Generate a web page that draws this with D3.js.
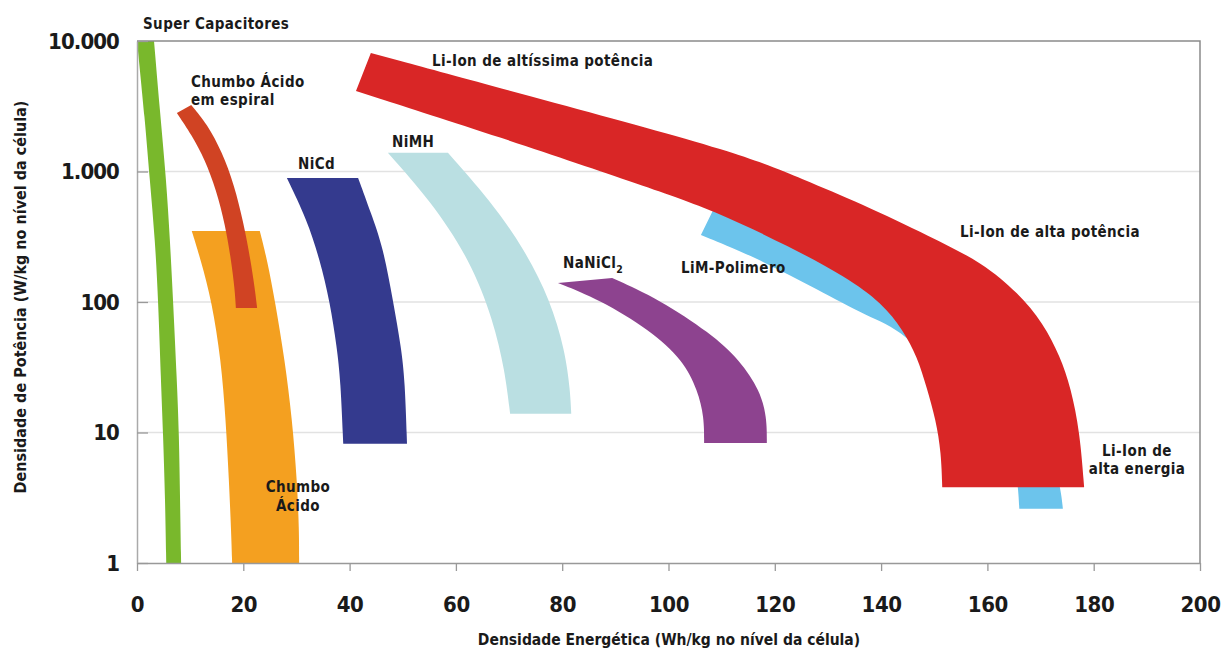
<!DOCTYPE html>
<html>
<head>
<meta charset="utf-8">
<script src="https://cdn.jsdelivr.net/npm/d3@7"></script>
<style>
  html, body { margin: 0; padding: 0; background: #fff; }
  svg { display: block; }
  text { font-family: "DejaVu Sans Condensed", "DejaVu Sans", sans-serif; font-stretch: condensed; font-weight: bold; fill: #1a1a1a; }
</style>
</head>
<body>
<svg id="chart" width="1222" height="651"></svg>
<script>
// Ragone plot: energy density (Wh/kg) vs power density (W/kg, log scale).
// Each technology is a band bounded by two edges given as [Wh/kg, W/kg] points.

const xTicks = [0, 20, 40, 60, 80, 100, 120, 140, 160, 180, 200];
const yTicks = [1, 10, 100, 1000, 10000];

const superCapA = [[0, 10000], [1.5, 2480], [2.4, 860], [3.4, 300], [4.0, 100], [4.5, 25], [4.9, 10], [5.3, 3.0], [5.5, 1]];
const superCapB = [[3.2, 10000], [4.3, 2960], [5.5, 860], [6.2, 300], [6.8, 100], [7.5, 25], [7.9, 10], [8.1, 3.0], [8.3, 1]];

const spiralA = [[7.5, 2806], [10.3, 1905], [12.8, 1225], [14.9, 721], [16.6, 389], [17.7, 210], [18.4, 124], [18.6, 90]];
const spiralB = [[10.2, 3233], [13.2, 2312], [16.0, 1410], [18.3, 788], [20.0, 410], [21.3, 217], [22.2, 124], [22.6, 90]];

const leadAcidA = [[10.3, 350], [12.0, 210], [14.1, 100], [15.8, 36], [16.7, 12.5], [17.3, 4.3], [17.7, 1.8], [17.9, 1]];
const leadAcidB = [[23.1, 350], [24.5, 210], [26.0, 100], [27.8, 36], [29.2, 12.5], [30.1, 4.3], [30.5, 1.8], [30.5, 1]];

const nicdA = [[28.2, 891], [32.0, 425], [34.4, 210], [36.3, 100], [37.6, 45], [38.3, 25], [38.8, 8.2]];
const nicdB = [[41.6, 891], [44.0, 481], [46.3, 264], [48.2, 100], [49.7, 45], [50.4, 25], [50.8, 8.2]];

const nimhA = [[47.2, 1390], [55.1, 605], [62.7, 210], [67.0, 73], [69.2, 30], [70.2, 13.9]];
const nimhB = [[58.5, 1390], [66.4, 605], [73.0, 250], [77.7, 104], [80.5, 43], [81.5, 21], [81.7, 13.9]];

const nanicl2A = [[79.2, 140], [87.1, 104], [96.5, 61], [102.7, 36], [105.5, 21], [106.7, 13.1], [106.7, 8.3]];
const nanicl2B = [[89.4, 153], [98.4, 104], [107.8, 58], [113.4, 36], [117.2, 21], [118.5, 13.1], [118.5, 8.3]];

const limPolyA = [[106.1, 326], [116.3, 221], [128.1, 124], [137.5, 77], [144.1, 61], [154.8, 21], [162.4, 7.3], [165.2, 5.2], [165.8, 3.8], [166.0, 2.6]];
const limPolyB = [[108.4, 507], [117.2, 464], [134.1, 250], [153.0, 73], [166.1, 17.8], [171.8, 7.4], [173.8, 3.8], [174.2, 2.6]];

const liIonA = [[44.0, 8090], [78.6, 3350], [113.5, 1390], [125.5, 861], [136.0, 574], [149.4, 315], [159.2, 199], [165.8, 117], [170.5, 69], [173.7, 38], [175.7, 22], [177.4, 10], [178.2, 3.8]];
const liIonB = [[41.2, 4140], [68.3, 1837], [96.5, 748], [108.4, 507], [122.9, 264], [133.4, 156], [140.2, 98], [144.1, 61], [146.8, 38], [148.6, 22], [150.3, 12.5], [151.3, 7.0], [151.5, 3.8]];

// drawing order (later bands sit on top)
const bands = [
  { a: superCapA, b: superCapB, color: "#79b82c" },
  { a: leadAcidA, b: leadAcidB, color: "#f4a020" },
  { a: spiralA, b: spiralB, color: "#d04323" },
  { a: nicdA, b: nicdB, color: "#343a8e" },
  { a: nimhA, b: nimhB, color: "#badfe2" },
  { a: nanicl2A, b: nanicl2B, color: "#8d438f" },
  { a: limPolyA, b: limPolyB, color: "#6cc4ec" },
  { a: liIonA, b: liIonB, color: "#d92626" }
];

(function () {
  const svg = d3.select("#chart");
  const pLeft = 137, pRight = 1200, pTop = 41, pBottom = 563;

  const x = d3.scaleLinear().domain([0, 200]).range([pLeft, pRight]);
  const y = d3.scaleLog().domain([1, 10000]).range([pBottom, pTop]);

  svg.append("clipPath").attr("id", "plot-clip")
    .append("rect").attr("x", pLeft).attr("y", pTop).attr("width", pRight - pLeft).attr("height", pBottom - pTop);

  // horizontal grid lines
  svg.append("g").selectAll("line")
    .data(yTicks.filter(d => d > 1 && d < 10000))
    .join("line")
    .attr("x1", pLeft).attr("x2", pRight)
    .attr("y1", d => y(d)).attr("y2", d => y(d))
    .attr("stroke", "#e2e2e2").attr("stroke-width", 1.6);

  // bands: smooth edges joined by straight end caps
  const edge = d3.line().x(d => x(d[0])).y(d => y(d[1])).curve(d3.curveBasis);
  svg.append("g").attr("clip-path", "url(#plot-clip)")
    .selectAll("path")
    .data(bands)
    .join("path")
    .attr("d", d => edge(d.a) + "L" + edge(d.b.slice().reverse()).slice(1) + "Z")
    .attr("fill", d => d.color);

  // frame
  svg.append("path")
    .attr("d", `M${pLeft},${pTop}H${pRight}V${pBottom}`)
    .attr("fill", "none").attr("stroke", "#8a8a8a").attr("stroke-width", 1.5);

  // x axis
  const xAxis = svg.append("g")
    .attr("transform", `translate(0,${pBottom})`)
    .call(d3.axisBottom(x).tickValues(xTicks).tickSizeInner(8).tickSizeOuter(0).tickPadding(25));
  xAxis.select(".domain").attr("stroke", "#999").attr("stroke-width", 1.5);
  xAxis.selectAll(".tick line").attr("stroke", "#999").attr("stroke-width", 1.3);
  xAxis.selectAll(".tick text").attr("font-size", 22).attr("letter-spacing", -0.4).attr("fill", "#111").attr("font-family", null);

  // y axis (ticks point into the plot)
  const fmt = d => d3.format(",")(d).replace(/,/g, ".");
  const yAxis = svg.append("g")
    .attr("transform", `translate(${pLeft},0)`)
    .call(d3.axisLeft(y).tickValues(yTicks).tickFormat(fmt).tickSizeInner(-11).tickSizeOuter(0).tickPadding(18));
  yAxis.select(".domain").attr("stroke", "#aaa").attr("stroke-width", 1.5);
  yAxis.selectAll(".tick line").attr("stroke", "#999").attr("stroke-width", 1.3);
  yAxis.selectAll(".tick text").attr("font-size", 22).attr("letter-spacing", -0.9).attr("fill", "#111").attr("font-family", null);

  // axis titles
  svg.append("text")
    .attr("x", 669).attr("y", 645)
    .attr("text-anchor", "middle").attr("font-size", 15.5)
    .text("Densidade Energética (Wh/kg no nível da célula)");
  svg.append("text")
    .attr("transform", "translate(26,297) rotate(-90)")
    .attr("text-anchor", "middle").attr("font-size", 16)
    .text("Densidade de Potência (W/kg no nível da célula)");

  // series labels
  const labels = [
    { lines: ["Super Capacitores"], x: 143, y: 29, anchor: "start", gap: 0 },
    { lines: ["Chumbo Ácido", "em espiral"], x: 191, y: 87, anchor: "start", gap: 17.5 },
    { lines: ["NiCd"], x: 298, y: 169, anchor: "start", gap: 0 },
    { lines: ["NiMH"], x: 392, y: 147, anchor: "start", gap: 0 },
    { lines: ["Li-Ion de altíssima potência"], x: 432, y: 66, anchor: "start", gap: 0 },
    { lines: ["LiM-Polimero"], x: 681, y: 273, anchor: "start", gap: 0 },
    { lines: ["Li-Ion de alta potência"], x: 960, y: 237, anchor: "start", gap: 0 },
    { lines: ["Li-Ion de", "alta energia"], x: 1137, y: 456, anchor: "middle", gap: 17.5 },
    { lines: ["Chumbo", "Ácido"], x: 298, y: 492, anchor: "middle", gap: 19 }
  ];
  const lab = svg.append("g").attr("font-size", 15).attr("letter-spacing", 0.4);
  labels.forEach(l => {
    l.lines.forEach((s, i) => lab.append("text")
      .attr("x", l.x).attr("y", l.y + i * l.gap)
      .attr("text-anchor", l.anchor).text(s));
  });
  const na = lab.append("text").attr("x", 563).attr("y", 268);
  na.append("tspan").text("NaNiCl");
  na.append("tspan").attr("font-size", 10.5).attr("dy", 5).text("2");
})();
</script>
</body>
</html>
